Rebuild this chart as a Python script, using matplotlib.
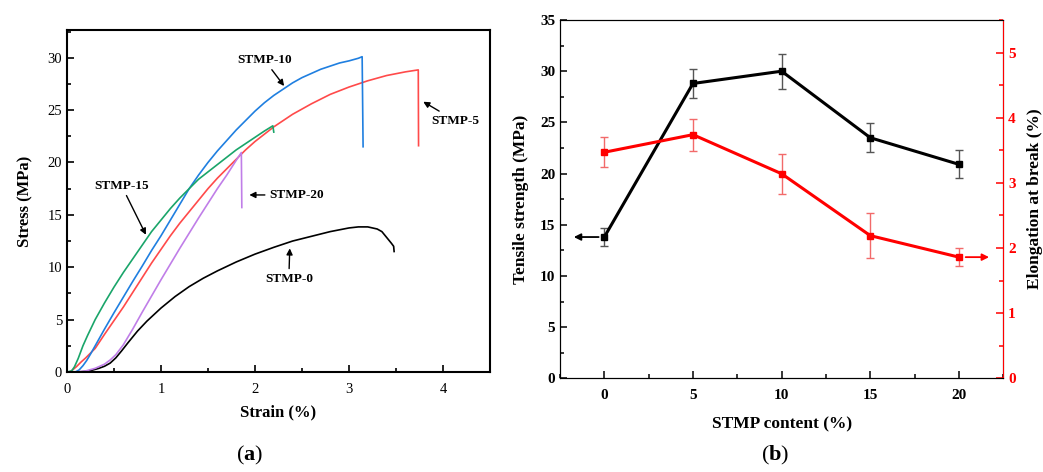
import numpy as np
import matplotlib.pyplot as plt
from matplotlib.ticker import MultipleLocator

# Fonts: Times-like serif everywhere
plt.rcParams['font.family'] = 'Liberation Serif'
plt.rcParams['mathtext.fontset'] = 'custom'
plt.rcParams['mathtext.rm'] = 'Liberation Serif'
plt.rcParams['mathtext.bf'] = 'Liberation Serif:bold'

# ---- panel (a): stress-strain curves ----
names = ['STMP-0', 'STMP-5', 'STMP-10', 'STMP-15', 'STMP-20']
colors = ['black', '#ff4a4a', '#1f7fe0', '#1aa56a', '#c07ee8']

strain_0 = [0, 0.15, 0.22, 0.28, 0.34, 0.4, 0.46, 0.52, 0.58, 0.65, 0.75, 0.85, 1.0,
            1.15, 1.3, 1.45, 1.6, 1.8, 2.0, 2.2, 2.4, 2.6, 2.8, 3.0, 3.1, 3.2, 3.3,
            3.35, 3.4, 3.45, 3.475, 3.48]
stress_0 = [0, 0.02, 0.08, 0.2, 0.35, 0.55, 0.85, 1.35, 2.0, 2.8, 3.9, 4.85, 6.1,
            7.2, 8.15, 8.95, 9.65, 10.5, 11.25, 11.9, 12.5, 12.95, 13.4, 13.75, 13.85,
            13.85, 13.65, 13.4, 12.85, 12.3, 12.0, 11.5]

strain_5 = [0, 0.03, 0.06, 0.1, 0.15, 0.2, 0.25, 0.3, 0.4, 0.5, 0.6, 0.7, 0.8, 0.9,
            1.0, 1.1, 1.2, 1.3, 1.4, 1.5, 1.6, 1.7, 1.8, 1.9, 2.0, 2.2, 2.4, 2.6, 2.8,
            3.0, 3.2, 3.4, 3.6, 3.737, 3.74]
stress_5 = [0, 0, 0.2, 0.5, 0.95, 1.35, 1.8, 2.25, 3.6, 4.9, 6.2, 7.6, 9.0, 10.4,
            11.7, 13.0, 14.2, 15.3, 16.4, 17.5, 18.5, 19.4, 20.3, 21.2, 22.0, 23.4,
            24.6, 25.6, 26.5, 27.2, 27.8, 28.3, 28.65, 28.84, 21.6]

strain_10 = [0, 0.09, 0.13, 0.17, 0.21, 0.25, 0.3, 0.35, 0.4, 0.5, 0.6, 0.7, 0.8, 0.9,
             1.0, 1.1, 1.2, 1.3, 1.4, 1.5, 1.6, 1.7, 1.8, 1.9, 2.0, 2.1, 2.2, 2.3, 2.4,
             2.5, 2.6, 2.7, 2.8, 2.9, 3.0, 3.1, 3.14, 3.15]
stress_10 = [0, 0, 0.2, 0.6, 1.1, 1.7, 2.5, 3.3, 4.1, 5.65, 7.15, 8.65, 10.1, 11.6,
             13.0, 14.5, 16.0, 17.5, 18.8, 20.0, 21.1, 22.1, 23.1, 24.0, 24.9, 25.7,
             26.4, 27.0, 27.6, 28.1, 28.5, 28.9, 29.2, 29.5, 29.7, 29.95, 30.1, 21.5]

strain_15 = [0, 0.05, 0.08, 0.12, 0.17, 0.22, 0.3, 0.4, 0.5, 0.6, 0.7, 0.8, 0.9, 1.0,
             1.1, 1.2, 1.3, 1.4, 1.5, 1.6, 1.7, 1.8, 1.9, 2.0, 2.1, 2.19, 2.2]
stress_15 = [0, 0.1, 0.5, 1.3, 2.5, 3.5, 5.0, 6.6, 8.1, 9.5, 10.8, 12.1, 13.4, 14.5,
             15.6, 16.6, 17.5, 18.4, 19.1, 19.8, 20.5, 21.2, 21.8, 22.4, 23.0, 23.5,
             22.9]

strain_20 = [0, 0.12, 0.2, 0.3, 0.4, 0.46, 0.52, 0.6, 0.7, 0.8, 0.9, 1.0, 1.1, 1.2,
             1.3, 1.4, 1.5, 1.6, 1.7, 1.8, 1.855, 1.86]
stress_20 = [0, 0.02, 0.1, 0.35, 0.75, 1.15, 1.65, 2.6, 4.1, 5.7, 7.25, 8.8, 10.3,
             11.8, 13.25, 14.7, 16.1, 17.5, 18.8, 20.2, 20.95, 15.7]

strains = [strain_0, strain_5, strain_10, strain_15, strain_20]
stresses = [stress_0, stress_5, stress_10, stress_15, stress_20]

# ---- panel (b): tensile strength and elongation vs STMP content ----
content = [0, 5, 10, 15, 20]
tensile = [13.8, 28.8, 30.0, 23.5, 20.9]
tensile_err = [0.85, 1.45, 1.7, 1.4, 1.37]
elong = [3.47, 3.74, 3.14, 2.19, 1.86]
elong_err = [0.23, 0.245, 0.31, 0.35, 0.14]

fig = plt.figure(figsize=(10.43, 4.72), dpi=100)
ax1 = fig.add_axes([0.0642, 0.2119, 0.4056, 0.7235])
ax2 = fig.add_axes([0.5369, 0.1985, 0.425, 0.7591])

# panel (a)
for s, y, c in zip(strains, stresses, colors):
    ax1.plot(s, y, color=c, lw=1.2)
ax1.set_xlim(0, 4.5)
ax1.set_ylim(0, 32.6)
ax1.xaxis.set_major_locator(MultipleLocator(1))
ax1.xaxis.set_minor_locator(MultipleLocator(0.5))
ax1.yaxis.set_major_locator(MultipleLocator(5))
ax1.yaxis.set_minor_locator(MultipleLocator(2.5))
ax1.tick_params(which='both', direction='in', labelsize=10.5, width=1.2)
ax1.tick_params(which='major', length=5)
ax1.tick_params(which='minor', length=3)
ax1.tick_params(axis='x', pad=8)
for sp in ax1.spines.values():
    sp.set_linewidth(1.5)
ax1.set_xlabel('Strain (%)', fontsize=12, fontweight='bold', labelpad=6)
ax1.set_ylabel('Stress (MPa)', fontsize=12, fontweight='bold', labelpad=10)

arrow = dict(arrowstyle='-|>', color='black', lw=1.0, mutation_scale=9,
             shrinkA=1, shrinkB=0)
lab = dict(fontsize=9.5, fontweight='bold', ha='center', va='center')
ax1.annotate('STMP-10', xy=(2.31, 27.3), xytext=(2.1, 29.8), arrowprops=arrow, **lab)
ax1.annotate('STMP-5', xy=(3.79, 25.8), xytext=(4.13, 24.0), arrowprops=arrow, **lab)
ax1.annotate('STMP-15', xy=(0.84, 13.1), xytext=(0.58, 17.8), arrowprops=arrow, **lab)
ax1.annotate('STMP-0', xy=(2.37, 11.8), xytext=(2.36, 8.9), arrowprops=arrow, **lab)
ax1.annotate('STMP-20', xy=(1.94, 16.9), xytext=(2.44, 16.9), arrowprops=arrow, **lab)

# panel (b)
ax2.errorbar(content, tensile, yerr=tensile_err, fmt='none', ecolor='#555555',
             elinewidth=1.0, capsize=3, capthick=1.0, zorder=2)
ax2.plot(content, tensile, color='black', lw=2.2, marker='s', ms=5, zorder=3)
ax2.set_xlim(-2.5, 22.5)
ax2.set_ylim(0, 35)
ax2.xaxis.set_major_locator(MultipleLocator(5))
ax2.xaxis.set_minor_locator(MultipleLocator(2.5))
ax2.yaxis.set_major_locator(MultipleLocator(5))
ax2.yaxis.set_minor_locator(MultipleLocator(2.5))
ax2.tick_params(which='both', direction='in', labelsize=11, width=1.1)
ax2.tick_params(which='major', length=5)
ax2.tick_params(which='minor', length=3)
for t in ax2.get_xticklabels() + ax2.get_yticklabels():
    t.set_fontweight('bold')
ax2.tick_params(axis='x', pad=8)
ax2.set_xlabel('STMP content (%)', fontsize=12.5, fontweight='bold', labelpad=10)
ax2.set_ylabel('Tensile strength (MPa)', fontsize=12.5, fontweight='bold', labelpad=8)
ax2.annotate('', xy=(-1.72, 13.8), xytext=(-0.32, 13.8),
             arrowprops=dict(arrowstyle='-|>', color='black', lw=1.3,
                             mutation_scale=10, shrinkA=0, shrinkB=0))

ax3 = ax2.twinx()
ax3.errorbar(content, elong, yerr=elong_err, fmt='none', ecolor='#f26a6a',
             elinewidth=1.0, capsize=3, capthick=1.0, zorder=2)
ax3.plot(content, elong, color='red', lw=2.2, marker='s', ms=5, zorder=3)
ax3.set_ylim(0, 5.5)
ax3.yaxis.set_major_locator(MultipleLocator(1))
ax3.yaxis.set_minor_locator(MultipleLocator(0.5))
ax3.tick_params(which='both', direction='in', labelsize=11, width=1.1,
                colors='red')
ax3.tick_params(which='major', length=5)
ax3.tick_params(which='minor', length=3)
for t in ax3.get_yticklabels():
    t.set_fontweight('bold')
ax3.spines['right'].set_color('red')
ax3.set_ylabel('Elongation at break (%)', fontsize=12.5, fontweight='bold',
               labelpad=8)
ax3.annotate('', xy=(21.7, 1.86), xytext=(20.38, 1.86),
             arrowprops=dict(arrowstyle='-|>', color='red', lw=1.3,
                             mutation_scale=10, shrinkA=0, shrinkB=0))

fig.text(0.2397, 0.036, r'($\mathbf{a}$)', fontsize=16, ha='center', va='center')
fig.text(0.743, 0.036, r'($\mathbf{b}$)', fontsize=16, ha='center', va='center')

fig.savefig('out.png', dpi=100)
